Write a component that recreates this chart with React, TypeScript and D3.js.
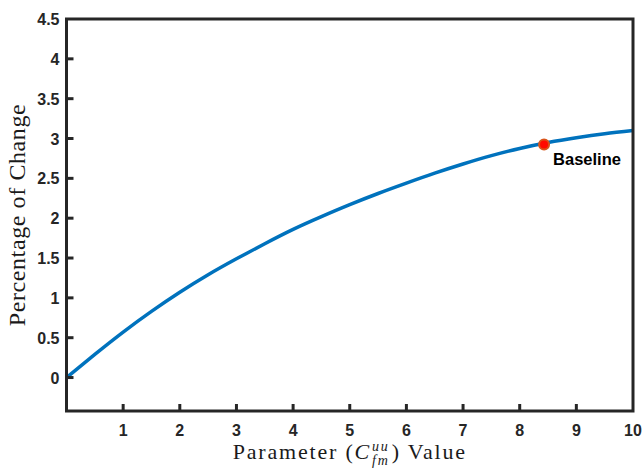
import { useEffect, useRef } from "react";
import * as d3 from "d3";

// values
const paramValues = [0, 0.5, 1, 1.5, 2, 2.5, 3, 3.5, 4, 4.5, 5, 5.5, 6, 6.5, 7, 7.5, 8, 8.5, 9, 9.5, 10];
const pctChange = [0, 0.29, 0.57, 0.83, 1.07, 1.29, 1.49, 1.68, 1.86, 2.02, 2.17, 2.31, 2.44, 2.565, 2.68, 2.785, 2.875, 2.95, 3.01, 3.06, 3.1];
const baseline = { x: 8.43, y: 2.925, label: "Baseline" };
const xTicks = [1, 2, 3, 4, 5, 6, 7, 8, 9, 10];
const yTicks = [0, 0.5, 1, 1.5, 2, 2.5, 3, 3.5, 4, 4.5];

const W = 643;
const H = 468;
const margin = { left: 66.5, right: 10, top: 19, bottom: 57 };

const App = () => {
  const svgRef = useRef<SVGSVGElement>(null);

  useEffect(() => {
    if (!svgRef.current) return;
    const svg = d3.select(svgRef.current);
    svg.selectAll("*").remove();

    const x = d3.scaleLinear().domain([0, 10]).range([margin.left, W - margin.right]);
    const y = d3.scaleLinear().domain([-0.42, 4.5]).range([H - margin.bottom, margin.top]);

    const axisColor = "#262626";
    const tickFont = "'Liberation Sans', Arial, sans-serif";
    const serif = "'Liberation Serif', 'Times New Roman', serif";

    // curve
    const line = d3
      .line<number>()
      .x((_, i) => x(paramValues[i]))
      .y((d) => y(d))
      .curve(d3.curveNatural);

    svg
      .append("path")
      .attr("d", line(pctChange))
      .attr("fill", "none")
      .attr("stroke", "#0072BD")
      .attr("stroke-width", 3.5);

    // box
    const [x0, x1] = x.range();
    const [yb, yt] = y.range();
    svg
      .append("rect")
      .attr("x", x0)
      .attr("y", yt)
      .attr("width", x1 - x0)
      .attr("height", yb - yt)
      .attr("fill", "none")
      .attr("stroke", axisColor)
      .attr("stroke-width", 3);

    // x ticks
    const xg = svg.append("g");
    xTicks.forEach((t) => {
      if (t < 10) {
        xg.append("line")
          .attr("x1", x(t)).attr("x2", x(t))
          .attr("y1", yb).attr("y2", yb - 7)
          .attr("stroke", axisColor).attr("stroke-width", 3);
      }
      xg.append("text")
        .attr("x", x(t))
        .attr("y", yb + 25)
        .attr("text-anchor", "middle")
        .attr("font-family", tickFont)
        .attr("font-weight", "bold")
        .attr("font-size", 16)
        .attr("fill", axisColor)
        .text(t);
    });

    // y ticks
    const yg = svg.append("g");
    yTicks.forEach((t) => {
      if (t < 4.5) {
        yg.append("line")
          .attr("x1", x0).attr("x2", x0 + 7)
          .attr("y1", y(t)).attr("y2", y(t))
          .attr("stroke", axisColor).attr("stroke-width", 3);
      }
      yg.append("text")
        .attr("x", x0 - 7)
        .attr("y", y(t) + 6)
        .attr("text-anchor", "end")
        .attr("font-family", tickFont)
        .attr("font-weight", "bold")
        .attr("font-size", 16)
        .attr("fill", axisColor)
        .text(t);
    });

    // baseline marker
    svg
      .append("circle")
      .attr("cx", x(baseline.x))
      .attr("cy", y(baseline.y))
      .attr("r", 5)
      .attr("fill", "#ff0a00")
      .attr("stroke", "#D95319")
      .attr("stroke-width", 2);

    svg
      .append("text")
      .attr("x", x(baseline.x) + 9)
      .attr("y", y(baseline.y) + 21)
      .attr("font-family", tickFont)
      .attr("font-weight", "bold")
      .attr("font-size", 16.5)
      .attr("fill", "#000")
      .text(baseline.label);

    // x label, pieced together so the sub/superscript stack after C
    const xl = svg.append("g");
    const base = 22;
    const small = 14;
    let cx = 0;
    const piece = (txt: string, size: number, dy: number, italic: boolean) => {
      const t = xl
        .append("text")
        .attr("x", cx)
        .attr("y", dy)
        .attr("font-family", serif)
        .attr("font-size", size)
        .attr("font-style", italic ? "italic" : "normal")
        .attr("letter-spacing", 1.8)
        .attr("fill", "#1a1a1a")
        .text(txt);
      return (t.node() as SVGTextElement).getComputedTextLength();
    };
    cx += piece("Parameter (", base, 0, false);
    cx += piece("C", base, 0, true) + 1;
    const supW = piece("uu", small, -8, true);
    const subW = piece("fm", small, 6, true);
    cx += Math.max(supW, subW) + 2;
    cx += piece(") Value", base, 0, false);
    xl.attr("transform", `translate(${(x0 + x1) / 2 - cx / 2}, ${H - 9})`);

    svg
      .append("text")
      .attr("transform", `translate(25, ${(yt + yb) / 2}) rotate(-90)`)
      .attr("text-anchor", "middle")
      .attr("font-family", serif)
      .attr("font-size", 24)
      .attr("letter-spacing", 0.6)
      .attr("fill", "#1a1a1a")
      .text("Percentage of Change");
  }, []);

  return (
    <svg
      ref={svgRef}
      width={W}
      height={H}
      style={{ position: "absolute", left: 0, top: 0, background: "#fff" }}
    />
  );
};

export default App;
